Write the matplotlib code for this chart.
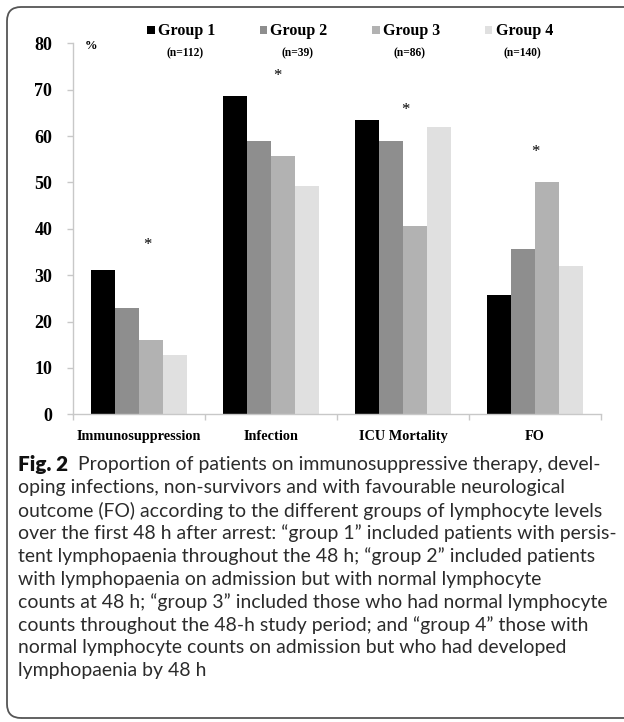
import numpy as np
import matplotlib
matplotlib.use("Agg")
import matplotlib.pyplot as plt
from matplotlib.patches import Rectangle, FancyBboxPatch
from matplotlib.transforms import IdentityTransform

# ---------------------------------------------------------------
# DATA
# ---------------------------------------------------------------
categories = ["Immunosuppression", "Infection", "ICU Mortality", "FO"]
groups     = ["Group 1", "Group 2", "Group 3", "Group 4"]
group_n    = ["(n=112)", "(n=39)", "(n=86)", "(n=140)"]
group1 = [31.1, 68.7, 63.4, 25.8]
group2 = [22.9, 58.9, 58.9, 35.7]
group3 = [16.1, 55.8, 40.6, 50.0]
group4 = [12.8, 49.3, 62.0, 31.9]
star_y  = [36.4, 73.0, 65.7, 56.5]
star_dx = [0.06, 0.05, 0.015, 0.0]
yticks  = [0, 10, 20, 30, 40, 50, 60, 70, 80]

caption_lines = [
    "oping infections, non-survivors and with favourable neurological",
    "outcome (FO) according to the different groups of lymphocyte levels",
    "over the first 48 h after arrest: \u201cgroup 1\u201d included patients with persis-",
    "tent lymphopaenia throughout the 48 h; \u201cgroup 2\u201d included patients",
    "with lymphopaenia on admission but with normal lymphocyte",
    "counts at 48 h; \u201cgroup 3\u201d included those who had normal lymphocyte",
    "counts throughout the 48-h study period; and \u201cgroup 4\u201d those with",
    "normal lymphocyte counts on admission but who had developed",
    "lymphopaenia by 48 h",
]
caption_first = "Proportion of patients on immunosuppressive therapy, devel-"

# ---------------------------------------------------------------
# STYLE
# ---------------------------------------------------------------
COLORS = ["#000000", "#8e8e8e", "#b2b2b2", "#e0e0e0"]
AXIS_GRAY = "#c8c8c8"
SERIF = "Liberation Serif"
SANS = "Lato"
W, H = 624, 722


def fx(x):
    return x / W


def fy(y):
    return 1 - y / H


fig = plt.figure(figsize=(W / 100, H / 100), dpi=100, facecolor="white")
renderer = fig.canvas.get_renderer()

# plot area in pixel terms
x0, x1, y0, y80 = 73, 601, 414.3, 43.3
ax = fig.add_axes([fx(x0), fy(y0), (x1 - x0) / W, (y0 - y80) / H])

# ---------------------------------------------------------------
# BARS
# ---------------------------------------------------------------
series = [group1, group2, group3, group4]
x = np.arange(len(categories))
bw = 0.182
for i, vals in enumerate(series):
    ax.bar(x + (i - 1.5) * bw, vals, width=bw, color=COLORS[i],
           edgecolor="none", zorder=2)

for xi, dx, sy in zip(x, star_dx, star_y):
    ax.text(xi + dx, sy, "*", ha="center", va="center",
            fontsize=12, family=SERIF, color="black")

ax.set_xlim(-0.5, 3.5)
ax.set_ylim(0, 80)
ax.set_yticks(yticks)
ax.set_yticklabels([str(t) for t in yticks], family=SERIF,
                   fontweight="bold", fontsize=13)
ax.set_xticks(x)
ax.set_xticklabels(categories, family=SERIF, fontweight="bold", fontsize=10.3)
ax.set_xticks(np.arange(-0.5, 4.0, 1.0), minor=True)
ax.tick_params(axis="x", which="major", length=0, pad=11)
ax.tick_params(axis="x", which="minor", length=4, color=AXIS_GRAY, width=1)
ax.tick_params(axis="y", length=4, color=AXIS_GRAY, width=1, pad=11)

for s in ["top", "right"]:
    ax.spines[s].set_visible(False)
for s in ["left", "bottom"]:
    ax.spines[s].set_color(AXIS_GRAY)
    ax.spines[s].set_linewidth(1)

# "%" unit label
fig.text(fx(85), fy(46), "%", family=SERIF, fontweight="bold",
         fontsize=9, ha="left", va="center")

# ---------------------------------------------------------------
# LEGEND (square + name, sample size underneath)
# ---------------------------------------------------------------
for i, (g, n) in enumerate(zip(groups, group_n)):
    sx = 147 + i * 112.5
    fig.add_artist(Rectangle((fx(sx), fy(33.5)), 7.5 / W, 7.5 / H,
                             transform=fig.transFigure,
                             facecolor=COLORS[i], edgecolor="none"))
    fig.text(fx(sx + 11), fy(31), g, family=SERIF, fontweight="bold",
             fontsize=11.5, ha="left", va="center")
    fig.text(fx(sx + 38), fy(53), n, family=SERIF, fontweight="bold",
             fontsize=8.3, ha="center", va="center")

# ---------------------------------------------------------------
# CAPTION  (font size fitted so the longest line spans ~586 px)
# ---------------------------------------------------------------
probe = fig.text(0, 0, caption_lines[1], family=SANS, fontsize=14)
w14 = probe.get_window_extent(renderer).width
probe.remove()
cap_fs = 14 * 586 / w14

cap_x, cap_y0, cap_dy = 18, 465, 22.8
figlab = fig.text(fx(cap_x), fy(cap_y0), "Fig. 2", family=SANS,
                  fontweight="heavy", fontsize=cap_fs * 1.06,
                  ha="left", va="center", color="#111")
fig_end = figlab.get_window_extent(renderer).x1
fig.text((fig_end + 10) / W, fy(cap_y0), caption_first, family=SANS,
         fontsize=cap_fs, ha="left", va="center", color="#2b2b2b")
for k, line in enumerate(caption_lines):
    fig.text(fx(cap_x), fy(cap_y0 + (k + 1) * cap_dy), line, family=SANS,
             fontsize=cap_fs, ha="left", va="center", color="#2b2b2b")

# rounded frame
fig.add_artist(FancyBboxPatch((7, H - 718), 660, 711,
                              boxstyle="round,pad=0,rounding_size=14",
                              transform=IdentityTransform(),
                              fill=False, edgecolor="#555", linewidth=1.3))

fig.savefig("out.png", dpi=100, facecolor="white")
